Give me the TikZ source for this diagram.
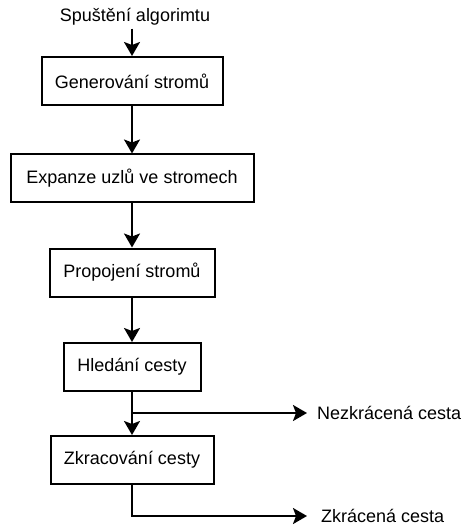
\documentclass[tikz,border=0pt]{standalone}
\usepackage{fontspec}
\setmainfont{Liberation Sans}
\usetikzlibrary{arrows.meta,positioning}

\tikzset{
    krok/.style={draw, line width=2pt, minimum height=48pt, inner sep=0pt,
        font=\fontsize{18}{21}\selectfont},
    popis/.style={inner ysep=0pt, font=\fontsize{18}{21}\selectfont},
    sipka/.style={-{Stealth[length=14pt, width=16pt, inset=3pt]}, line width=2pt}
}

\begin{document}
\begin{tikzpicture}[x=1pt, y=-1pt]
\useasboundingbox (0,0) rectangle (464,526);
\node[popis, inner sep=0pt] (start) at (135,17) {Spuštění algorimtu};
\node[krok, minimum width=181pt] (gen) at (132,81) {Generování stromů};
\node[krok, minimum width=243pt] (exp) at (132,178.5) {Expanze uzlů ve stromech};
\node[krok, minimum width=165pt] (prop) at (132,272.5) {Propojení stromů};
\node[krok, minimum width=137pt] (hled) at (132,367) {Hledání cesty};
\node[krok, minimum width=163pt] (zkrac) at (132,460) {Zkracování cesty};
\coordinate (odbocka) at (132,413);
\node[popis, anchor=west, inner xsep=10pt] (nezkr) at (307,413) {Nezkrácená cesta};
\node[popis, anchor=west, inner xsep=14pt] (zkr) at (307,516) {Zkrácená cesta};

\draw[sipka] ([yshift=-3pt]start.south -| gen.north) -- (gen);
\draw[sipka] (gen) -- (exp);
\draw[sipka] (exp) -- (prop);
\draw[sipka] (prop) -- (hled);
\draw[sipka] (hled) -- (zkrac);
\draw[sipka] (odbocka) -- (nezkr);
\draw[sipka] (zkrac) |- (zkr);
\end{tikzpicture}
\end{document}
